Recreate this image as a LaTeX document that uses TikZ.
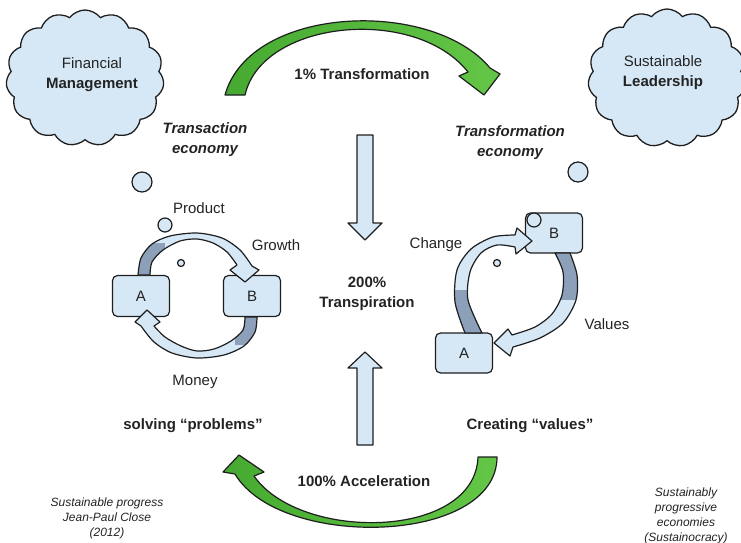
\documentclass[tikz,border=0pt]{standalone}
\usepackage{fontspec}
\setmainfont{Liberation Sans}
\usetikzlibrary{shapes.symbols}
\definecolor{lb}{RGB}{214,232,246}
\definecolor{db}{RGB}{140,160,186}
\definecolor{ln}{RGB}{30,30,30}
\definecolor{grA}{RGB}{70,170,50}
\definecolor{grB}{RGB}{100,198,70}
\definecolor{txt}{RGB}{35,35,35}
\newcommand\pathProd{plot[smooth] coordinates {(138,275) (141,258) (152,244) (170,236) (197,233) (222,238) (240,250) (252,266)} -- (259,270) -- (245,282) -- (230,270) -- plot[smooth] coordinates {(237,265) (227,252) (213,243) (197,239) (180,241) (163,250) (152,262) (150,275)} -- cycle}
\newcommand\pathMoney{plot[smooth] coordinates {(257,317) (255,332) (244,346) (224,355) (197,358) (172,353) (154,342) (141,326)} -- (135,322) -- (147,310) -- (160,322) -- plot[smooth] coordinates {(154,326) (165,337) (181,346) (197,351) (214,349) (231,341) (243,330) (245,317)} -- cycle}
\newcommand\pathChange{plot[smooth] coordinates {(465,333) (455,302) (457,270) (471,249) (493,237) (515,235)} -- (517,228) -- (532,241) -- (516,254) -- plot[smooth] coordinates {(515,247) (497,245) (481,253) (470,272) (468,300) (482,333)} -- cycle}
\newcommand\pathValues{plot[smooth] coordinates {(570,253) (577,275) (576,300) (563,323) (540,338) (513,347)} -- (510,356) -- (494,343) -- (508,329) -- plot[smooth] coordinates {(512,335) (535,327) (552,314) (562,295) (563,272) (555,253)} -- cycle}
\tikzset{
  outl/.style={draw=ln, line width=1.2pt, line join=round},
  boxnode/.style={draw=ln, line width=1.2pt, fill=lb, rounded corners=5pt, minimum width=57pt, minimum height=41pt, font=\fontsize{15}{18}\selectfont, text=txt},
  bub/.style={circle, draw=ln, line width=1.2pt, fill=lb, inner sep=0pt},
  cloudy/.style={cloud, cloud puffs=15, cloud puff arc=105, aspect=1.15, draw=ln, line width=1.3pt, fill=lb, inner sep=0pt},
  lbl/.style={font=\fontsize{15}{20}\selectfont, text=txt, align=center, inner sep=0pt},
  blbl/.style={font=\bfseries\fontsize{15}{20}\selectfont, text=txt, align=center, inner sep=0pt},
  bilbl/.style={font=\bfseries\itshape\fontsize{15}{20}\selectfont, text=txt, align=center, inner sep=0pt},
  smlbl/.style={font=\itshape\fontsize{12}{15}\selectfont, text=txt, align=center, inner sep=0pt},
  green/.style={outl, left color=grA, right color=grB},
  blockarrow/.style={outl, fill=lb}
}
\begin{document}
\begin{tikzpicture}[x=1pt,y=-1pt]
\useasboundingbox (0,0) rectangle (741,543);
% clouds
\node[cloudy, minimum width=158pt, minimum height=136pt] (c1) at (85,78) {};
\node[lbl] (t1) at (92,75) {Financial\\\textbf{Management}};
\node[cloudy, minimum width=158pt, minimum height=138pt] (c2) at (667,78) {};
\node[lbl] (t2) at (663,73) {Sustainable\\\textbf{Leadership}};
% green arrows
\draw[green] (225,95) -- (245,95) .. controls (262,20) and (415,5) .. (468,72) -- (459,76) -- (484,95) -- (500,74) -- (490,68) .. controls (432,-2) and (250,5) .. (225,95) -- cycle;
\draw[green] (478,457) -- (497,457) .. controls (497,545) and (280,550) .. (235,474) -- (223,472) -- (239,455) -- (264,472) -- (254,476) .. controls (300,542) and (475,540) .. (478,457) -- cycle;
\node[blbl] (tr1) at (362,74) {1\% Transformation};
\node[blbl] (tr2) at (364,481) {100\% Acceleration};
% block arrows
\draw[blockarrow] (357,135) -- (373,135) -- (373,223) -- (382,223) -- (365,240) -- (348,223) -- (357,223) -- cycle;
\draw[blockarrow] (357,445) -- (373,445) -- (373,368) -- (382,368) -- (365,352) -- (348,368) -- (357,368) -- cycle;
\node[blbl] (mid) at (367,294) {200\%\\Transpiration};
% labels
\node[bilbl] (te1) at (205,140) {Transaction\\economy};
\node[bilbl] (te2) at (510,143) {Transformation\\economy};
\node[blbl] (sp) at (193,426) {solving “problems”};
\node[blbl] (cv) at (530,426) {Creating “values”};
\node[smlbl] (s1) at (107,518) {Sustainable progress\\Jean-Paul Close\\(2012)};
\node[smlbl] (s2) at (686,516) {Sustainably\\progressive\\economies\\(Sustainocracy)};
% bubbles
\node[bub, minimum size=20pt] (b1) at (142,182) {};
\node[bub, minimum size=14pt] (b2) at (165,225) {};
\node[bub, minimum size=7pt] (b3) at (181,263) {};
\node[bub, minimum size=20pt] (b4) at (578,172) {};
% left cycle
\node[boxnode] (A1) at (141,296) {A};
\node[boxnode] (B1) at (252,296) {B};
\fill[lb] \pathProd;
\begin{scope}\clip \pathProd; \fill[db] (125,243) rectangle (165,285);\end{scope}
\draw[outl] \pathProd;
\fill[lb] \pathMoney;
\begin{scope}\clip \pathMoney; \fill[db] (235,305) rectangle (270,345);\end{scope}
\draw[outl] \pathMoney;
\node[lbl] (p1) at (199,208) {Product};
\node[lbl] (g1) at (276,245) {Growth};
\node[lbl] (m1) at (195,382) {Money};
% right cycle
\node[boxnode, minimum height=40pt] (B2) at (554,233) {B};
\node[boxnode, minimum height=40pt] (A2) at (464,353) {A};
\node[bub, minimum size=14pt] (b5) at (534,220) {};
\node[bub, minimum size=7pt] (b6) at (497,263) {};
\fill[lb] \pathChange;
\begin{scope}\clip \pathChange; \fill[db] (440,290) rectangle (490,340);\end{scope}
\draw[outl] \pathChange;
\fill[lb] \pathValues;
\begin{scope}\clip \pathValues; \fill[db] (545,245) rectangle (590,300);\end{scope}
\draw[outl] \pathValues;
\node[lbl] (ch) at (436,245) {Change};
\node[lbl] (va) at (607,324) {Values};
\end{tikzpicture}
\end{document}
